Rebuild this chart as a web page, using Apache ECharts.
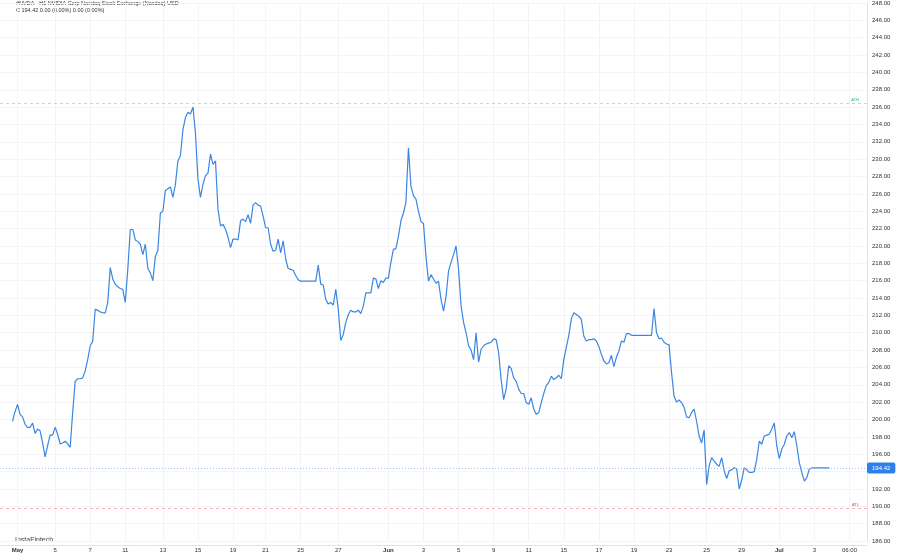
<!DOCTYPE html>
<html>
<head>
<meta charset="utf-8">
<title>NVDA H1</title>
<script src="https://cdn.jsdelivr.net/npm/echarts@6/dist/echarts.min.js"></script>
<style>
    html, body { margin: 0; padding: 0; background: #fff; }
    #main { width: 900px; height: 555px; }
</style>
</head>
<body>
<div id="main"></div>
<script>
// 小时收盘价 (H1)
var price = [
    199.8, 200.9, 201.75, 200.6, 200.3, 199.45, 199.1, 199.1, 199.6, 198.4,
    198.9, 198.7, 197.3, 195.7, 197.0, 198.2, 198.2, 199.1, 198.3, 197.2,
    197.3, 197.5, 197.2, 196.8, 200.8, 204.4, 204.7, 204.7, 204.8, 205.6,
    206.9, 208.5, 209.0, 212.7, 212.6, 212.4, 212.3, 212.3, 213.5, 217.5,
    216.2, 215.6, 215.3, 215.1, 215.0, 213.5, 217.3, 221.9, 221.9, 220.7,
    220.5, 220.2, 219.0, 220.2, 217.4, 216.9, 216.0, 218.8, 219.5, 223.8,
    224.0, 226.4, 226.6, 226.8, 225.6, 227.1, 229.8, 230.4, 233.4, 234.8,
    235.4, 235.2, 236.0, 233.0, 227.7, 225.6, 227.1, 228.1, 228.4, 230.6,
    229.4, 229.8, 224.2, 222.3, 222.5, 221.9, 221.0, 219.8, 220.8, 220.8,
    220.7, 222.9, 223.1, 222.8, 223.6, 222.6, 224.7, 225.0, 224.7, 224.6,
    223.45, 222.1, 222.1, 220.2, 219.4, 219.5, 220.8, 219.2, 220.6, 218.5,
    217.4, 217.3, 217.2, 216.6, 216.1, 215.95, 215.95, 215.95, 215.95, 215.95,
    215.95, 215.95, 217.8, 215.6, 215.5, 213.85, 213.3, 213.5, 213.2, 215.0,
    212.7, 209.1, 209.8, 211.2, 212.1, 212.6, 212.4, 212.4, 212.6, 212.2,
    213.1, 214.6, 214.6, 214.6, 216.3, 216.2, 215.1, 216.0, 215.8, 216.3,
    216.3, 218.1, 219.6, 219.7, 221.1, 222.9, 223.8, 225.0, 231.3, 226.9,
    225.8, 225.4, 224.0, 222.8, 222.6, 218.8, 215.95, 216.7, 216.2, 215.7,
    215.95, 213.85, 212.5, 214.2, 217.1, 218.1, 219.0, 220.0, 217.3, 213.1,
    211.2, 210.0, 208.5, 208.0, 206.9, 210.0, 206.6, 208.1, 208.5, 208.7,
    208.8, 208.9, 209.3, 209.2, 207.7, 204.6, 202.3, 203.5, 206.2, 205.9,
    204.8, 204.4, 203.5, 203.0, 203.0, 201.95, 201.75, 202.5, 201.2, 200.6,
    200.8, 201.95, 203.0, 203.9, 204.25, 205.0, 204.6, 204.8, 205.1, 204.7,
    206.9, 208.3, 209.7, 211.6, 212.3, 212.1, 211.9, 211.55, 209.6, 209.05,
    209.2, 209.2, 209.3, 209.05, 208.4, 207.5, 206.75, 206.4, 206.55, 207.4,
    206.1, 207.2, 207.9, 209.05, 208.9, 209.9, 209.9, 209.7, 209.7, 209.7,
    209.7, 209.7, 209.7, 209.7, 209.7, 209.7, 212.8, 210.0, 209.3, 209.4,
    208.9, 208.7, 208.6, 205.4, 202.7, 202.0, 202.25, 201.95, 201.4, 200.3,
    200.2, 200.8, 201.2, 199.8, 198.1, 197.3, 198.8, 192.5, 194.65, 195.6,
    195.2, 194.85, 194.6, 195.6, 194.1, 193.2, 194.1, 194.2, 194.45, 194.3,
    192.0, 193.0, 194.45, 194.2, 193.9, 193.9, 194.0, 195.4, 197.5, 197.15,
    198.1, 198.2, 198.3, 198.9, 199.6, 196.95, 195.5, 196.6, 197.15, 198.1,
    198.5, 197.9, 198.6, 196.95, 195.0, 193.9, 192.9, 193.3, 194.3, 194.42,
    194.42, 194.42, 194.42, 194.42, 194.42, 194.42, 194.42
];
// 横轴标签 及其所在的K线序号
var tickLabels = ['May', '5', '7', '11', '13', '15', '19', '21', '25', '27', 'Jun', '3',
    '5', '9', '11', '15', '17', '19', '23', '25', '29', 'Jul', '3', '06:00'];
var tickIndex = [2, 17, 31, 45, 60, 74, 88, 101, 115, 130, 150, 164,
    178, 192, 206, 220, 234, 248, 262, 277, 291, 306, 320, 334];
var lastPrice = 194.42;
var athPrice = 236.5;
var atlPrice = 189.8;

var lead = 5;        // 左侧空白K线
var barCount = 347;  // 含右侧留白

var labelMap = {};
for (var i = 0; i < tickIndex.length; i++) {
    labelMap[tickIndex[i] + lead] = tickLabels[i];
}
var cats = [];
for (var j = 0; j < barCount; j++) {
    cats.push('b' + j);
}
var seriesData = [];
for (var k = 0; k < lead; k++) {
    seriesData.push(null);
}
seriesData = seriesData.concat(price);

var showTick = function (index) {
    return labelMap[index] !== undefined;
};
var font = 'Liberation Sans';

var chart = echarts.init(document.getElementById('main'));
var option = {
    animation: false,
    backgroundColor: '#ffffff',
    textStyle: { fontFamily: font },
    grid: { left: 0, right: 33, top: 3, bottom: 14 },
    xAxis: {
        type: 'category',
        data: cats,
        boundaryGap: false,
        offset: 4,
        axisLine: { lineStyle: { color: '#dfe2e8' } },
        axisTick: { show: false },
        axisLabel: {
            interval: showTick,
            margin: 2,
            fontSize: 6,
            color: '#333333',
            formatter: function (val, idx) {
                var t = labelMap[idx];
                if (t === 'May' || t === 'Jun' || t === 'Jul') {
                    return '{b|' + t + '}';
                }
                return t || '';
            },
            rich: { b: { fontSize: 6, fontWeight: 'bold', color: '#333333' } }
        },
        splitLine: { show: true, interval: showTick, lineStyle: { color: '#f3f4f7', width: 1 } }
    },
    yAxis: {
        type: 'value',
        position: 'right',
        min: 186,
        max: 248,
        interval: 2,
        axisLine: { show: true, lineStyle: { color: '#dfe2e8' } },
        axisTick: { show: false },
        axisLabel: {
            margin: 5,
            fontSize: 6,
            color: '#333333',
            formatter: function (v) { return v.toFixed(2); }
        },
        splitLine: { lineStyle: { color: '#f3f4f7', width: 1 } }
    },
    series: [{
        type: 'line',
        data: seriesData,
        showSymbol: false,
        connectNulls: false,
        lineStyle: { color: '#3a86e2', width: 1.2 },
        markLine: {
            silent: true,
            symbol: 'none',
            animation: false,
            data: [
                {
                    yAxis: athPrice,
                    lineStyle: { color: '#9fdcbf', type: [3, 3], width: 0.8 },
                    label: { formatter: 'ATH', position: 'insideEndTop', distance: [8, 1], color: '#2bb673', fontSize: 4 }
                },
                {
                    yAxis: atlPrice,
                    lineStyle: { color: '#f3a3a3', type: [3, 3], width: 0.8 },
                    label: { formatter: 'ATL', position: 'insideEndTop', distance: [8, 1], color: '#e04848', fontSize: 4 }
                },
                {
                    yAxis: lastPrice,
                    lineStyle: { color: '#8ab8ee', type: [1, 2], width: 0.8 },
                    label: {
                        formatter: lastPrice.toFixed(2),
                        position: 'end',
                        distance: 0,
                        color: '#ffffff',
                        fontSize: 6,
                        backgroundColor: '#2f80ed',
                        borderRadius: 2,
                        padding: [3, 5, 2, 5]
                    }
                }
            ]
        }
    }],
    graphic: [
        {
            type: 'text', left: 16, top: 0,
            style: { text: '#NVDA \u00b7 H1 NVIDIA Corp Nasdaq Stock Exchange (Nasdaq) USD', fontSize: 5.5, fill: '#333333', fontFamily: font }
        },
        {
            type: 'text', left: 16, top: 7,
            style: { text: 'C 194.42 0.00 (0.00%) 0.00 (0.00%)', fontSize: 5.5, fill: '#333333', fontFamily: font }
        },
        {
            type: 'text', left: 15, top: 537,
            style: { text: 'InstaFintech', fontSize: 7, fill: '#444444', fontFamily: font }
        }
    ]
};
chart.setOption(option);
</script>
</body>
</html>
